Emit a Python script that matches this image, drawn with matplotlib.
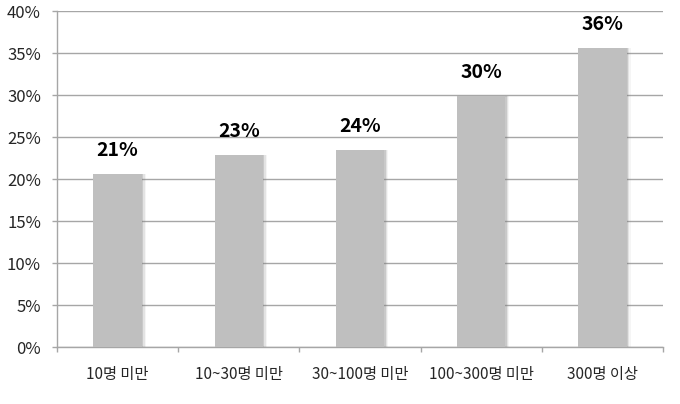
"""Bar chart: share by company size (reference recreation)."""
import numpy as np
import matplotlib
matplotlib.use("Agg")
import matplotlib.pyplot as plt
from matplotlib.ticker import FixedLocator, FuncFormatter

plt.rcParams["font.family"] = ["Noto Sans CJK KR", "DejaVu Sans"]

categories = ["10명 미만", "10~30명 미만", "30~100명 미만", "100~300명 미만", "300명 이상"]
values = [20.6, 22.9, 23.5, 29.9, 35.6]
labels = ["21%", "23%", "24%", "30%", "36%"]
yticks = [0, 5, 10, 15, 20, 25, 30, 35, 40]

BAR = "#BFBFBF"
GRID = "#A6A6A6"
TEXT = "#262626"

fig = plt.figure(figsize=(6.8, 4.04), dpi=100)
ax = fig.add_axes([57 / 680, 57 / 404, 606 / 680, 336 / 404])

x = np.arange(len(categories))
width = 0.4

# soft shadow on the right side of each bar
for k, a in [(0.012, 0.25), (0.022, 0.15), (0.032, 0.08)]:
    ax.bar(x + k, values, width=width, color="#808080", alpha=a, zorder=2,
           linewidth=0)
ax.bar(x, values, width=width, color=BAR, zorder=3, linewidth=0)

for xi, v, lab in zip(x, values, labels):
    ax.annotate(lab, (xi, v), xytext=(0, 10), textcoords="offset points",
                ha="center", va="bottom", fontsize=14, fontweight="bold",
                color="black")

ax.set_xlim(-0.5, len(categories) - 0.5)
ax.set_ylim(0, 40)
ax.yaxis.set_major_locator(FixedLocator(yticks))
ax.yaxis.set_major_formatter(FuncFormatter(lambda v, p: f"{v:.0f}%"))
ax.grid(axis="y", color=GRID, linewidth=1.0, zorder=0)
ax.set_axisbelow(True)

# category labels centered, tick marks at category boundaries
ax.set_xticks(x)
ax.set_xticklabels(categories, fontsize=11, color=TEXT)
ax.set_xticks(np.arange(len(categories) + 1) - 0.5, minor=True)
ax.tick_params(axis="x", which="major", length=0, pad=14)
ax.tick_params(axis="x", which="minor", length=3.6, color=GRID, width=1)
ax.tick_params(axis="y", length=3.6, color=GRID, width=1, labelsize=12,
               labelcolor=TEXT, pad=8)

for side in ["top", "right"]:
    ax.spines[side].set_visible(False)
for side in ["left", "bottom"]:
    ax.spines[side].set_color(GRID)
    ax.spines[side].set_linewidth(1.0)

fig.savefig("out.png", dpi=100)
